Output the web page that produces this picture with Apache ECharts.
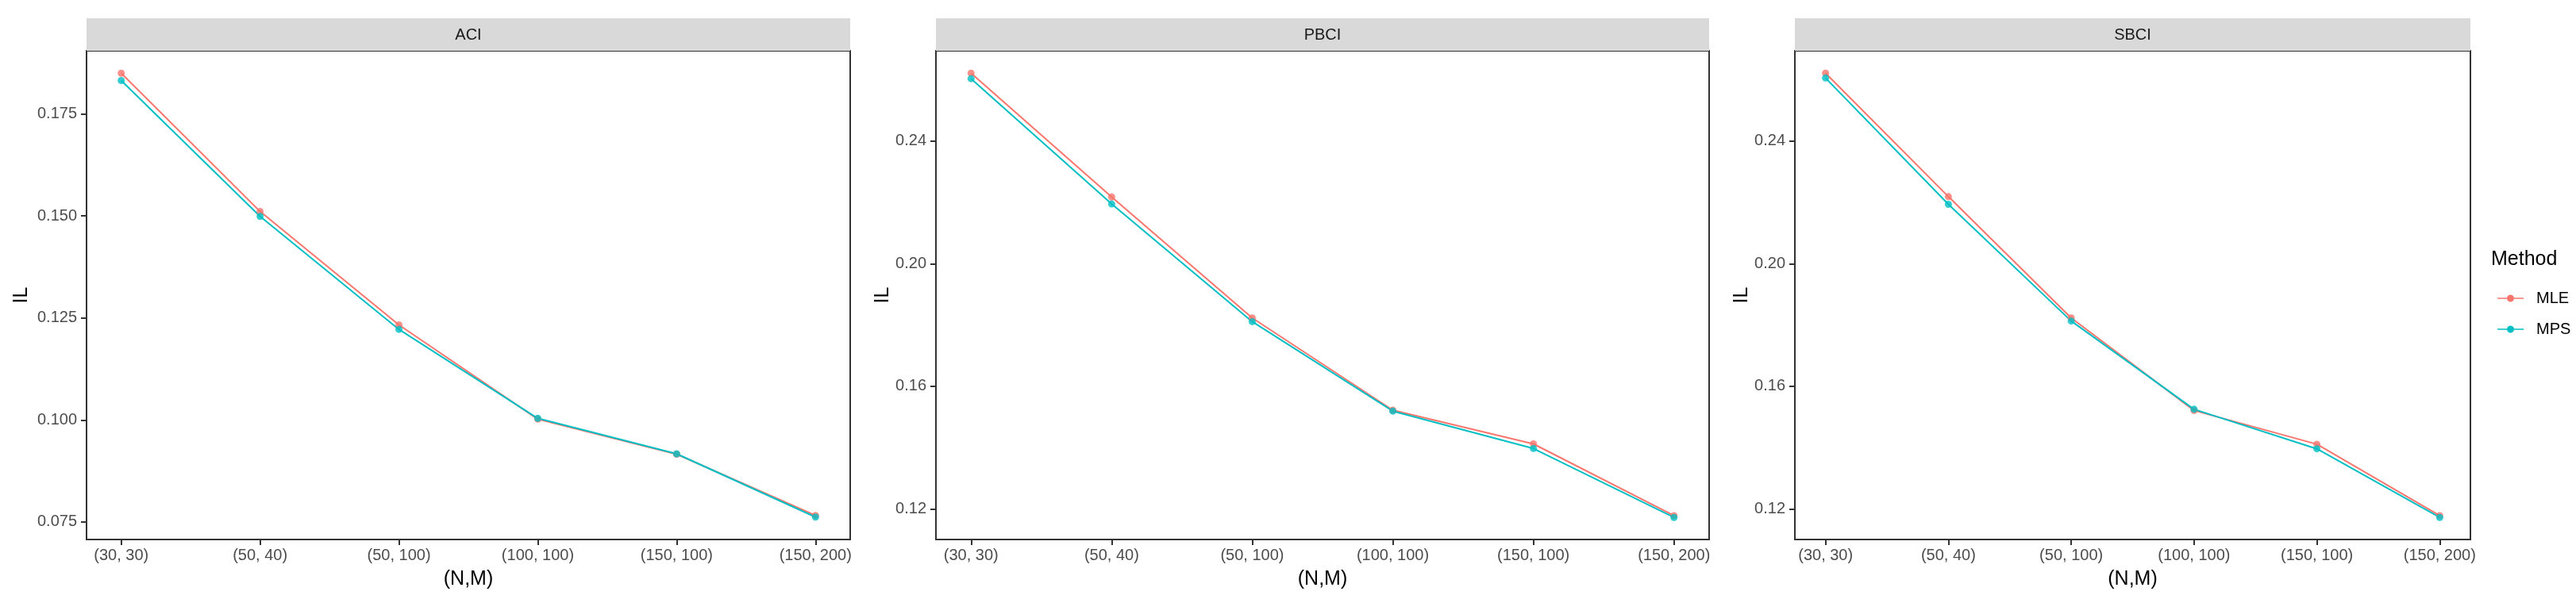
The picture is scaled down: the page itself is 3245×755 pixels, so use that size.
<!DOCTYPE html>
<html>
<head>
<meta charset="utf-8">
<script src="https://cdn.jsdelivr.net/npm/echarts@6/dist/echarts.min.js"></script>
<style>
  html, body { margin: 0; padding: 0; background: #fff; }
  #main { width: 3245px; height: 755px; }
</style>
</head>
<body>
<div id="main"></div>
<script>
// data
const categories = ['(30, 30)', '(50, 40)', '(50, 100)', '(100, 100)', '(150, 100)', '(150, 200)']
const panels = ['ACI', 'PBCI', 'SBCI']
const methods = ['MLE', 'MPS']

const aciMLE = [0.1850, 0.1511, 0.1233, 0.1002, 0.0916, 0.0766]
const aciMPS = [0.1832, 0.1499, 0.1222, 0.1004, 0.0917, 0.0762]
const pbciMLE = [0.2622, 0.2218, 0.1823, 0.1522, 0.1412, 0.1178]
const pbciMPS = [0.2604, 0.2195, 0.1811, 0.1519, 0.1397, 0.1172]
const sbciMLE = [0.2622, 0.2219, 0.1823, 0.1521, 0.1411, 0.1178]
const sbciMPS = [0.2606, 0.2194, 0.1813, 0.1525, 0.1396, 0.1172]

const aciTicks = [0.075, 0.100, 0.125, 0.150, 0.175]
const bciTicks = [0.12, 0.16, 0.20, 0.24]

const panelData = [[aciMLE, aciMPS], [pbciMLE, pbciMPS], [sbciMLE, sbciMPS]]
const panelTicks = [aciTicks, bciTicks, bciTicks]
const panelRange = [[0.0707, 0.1905], [0.1100, 0.2695], [0.1100, 0.2695]]
const panelDigits = [3, 2, 2]

// layout
const grids = [
  {left: 109, width: 962},
  {left: 1179, width: 974},
  {left: 2261, width: 851},
]
const gridTop = 64
const gridHeight = 616
const nameGaps = [69, 54, 54]

const colors = ['#F8766D', '#00BFC4']
const fontFamily = "'Liberation Sans', Arial, sans-serif"
const catIdx = categories.map((c, i) => i)

const chart = echarts.init(document.getElementById('main'), null, {renderer: 'canvas'})

const option = {
  backgroundColor: '#ffffff',
  animation: false,
  textStyle: {fontFamily: fontFamily},
  grid: grids.map(g => ({
    left: g.left, width: g.width, top: gridTop, height: gridHeight,
    show: true, borderColor: '#333333', borderWidth: 2, backgroundColor: '#ffffff',
    containLabel: false,
  })),
  xAxis: grids.map((g, i) => ({
    type: 'value',
    gridIndex: i,
    position: 'bottom',
    min: -0.25,
    max: categories.length - 0.75,
    name: '(N,M)',
    nameLocation: 'middle',
    nameGap: 38,
    nameTextStyle: {fontSize: 25, color: '#000000', fontFamily: fontFamily},
    axisLine: {show: false, onZero: false},
    splitLine: {show: false},
    axisTick: {show: true, length: 7, inside: false, customValues: catIdx,
      lineStyle: {color: '#333333', width: 2}},
    axisLabel: {customValues: catIdx, margin: 10, fontSize: 20, color: '#4D4D4D',
      fontFamily: fontFamily, formatter: v => categories[Math.round(v)]},
  })),
  yAxis: grids.map((g, i) => ({
    type: 'value',
    gridIndex: i,
    position: 'left',
    min: panelRange[i][0],
    max: panelRange[i][1],
    name: 'IL',
    nameLocation: 'middle',
    nameGap: nameGaps[i],
    nameTextStyle: {fontSize: 25, color: '#000000', fontFamily: fontFamily},
    axisLine: {show: false, onZero: false},
    splitLine: {show: false},
    axisTick: {show: true, length: 7, inside: false, customValues: panelTicks[i],
      lineStyle: {color: '#333333', width: 2}},
    axisLabel: {customValues: panelTicks[i], margin: 12, fontSize: 20, color: '#4D4D4D',
      fontFamily: fontFamily, formatter: v => v.toFixed(panelDigits[i])},
  })),
  legend: {
    orient: 'vertical',
    left: 3141,
    top: 361,
    itemWidth: 33,
    itemHeight: 9,
    itemGap: 19,
    data: methods.map((m, k) => ({
      name: m,
      icon: 'path://M0,4.2H12V5.8H0Z M21,4.2H33V5.8H21Z M12,5a4.5,4.5 0 1,0 9,0a4.5,4.5 0 1,0 -9,0Z',
      itemStyle: {color: colors[k], opacity: 1},
    })),
    textStyle: {fontSize: 20, color: '#000000', fontFamily: fontFamily, padding: [0, 0, 0, 11]},
  },
  graphic: [
    ...grids.map((g, i) => ({
      type: 'rect',
      left: g.left,
      top: 23,
      shape: {width: g.width, height: gridTop - 23},
      style: {fill: '#D9D9D9'},
      z: 1,
    })),
    ...grids.map((g, i) => ({
      type: 'text',
      x: g.left + g.width / 2,
      y: 44,
      style: {text: panels[i], fontSize: 20, fill: '#1A1A1A', fontFamily: fontFamily,
        align: 'center', verticalAlign: 'middle'},
      z: 2,
    })),
    {
      type: 'text',
      x: 3138,
      y: 327,
      style: {text: 'Method', fontSize: 25, fill: '#000000', fontFamily: fontFamily,
        align: 'left', verticalAlign: 'middle'},
    },
  ],
  series: [],
}

panelData.forEach((pair, i) => {
  pair.forEach((vals, k) => {
    option.series.push({
      name: methods[k],
      type: 'line',
      xAxisIndex: i,
      yAxisIndex: i,
      data: vals.map((v, j) => [catIdx[j], v]),
      symbol: 'circle',
      symbolSize: 9,
      showSymbol: true,
      color: colors[k],
      lineStyle: {color: colors[k], width: 2},
      itemStyle: {color: colors[k], opacity: 0.8},
      emphasis: {disabled: true},
    })
  })
})

chart.setOption(option)
</script>
</body>
</html>
